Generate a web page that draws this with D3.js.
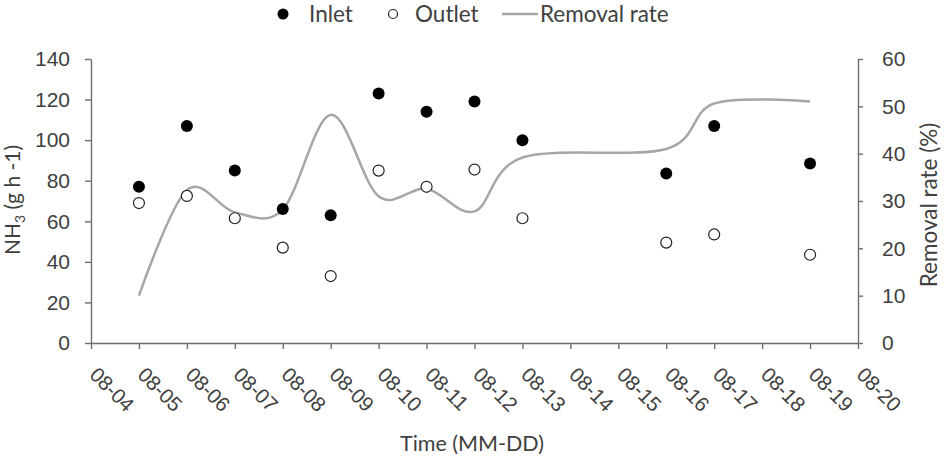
<!doctype html>
<html lang="en">
<head>
<meta charset="UTF-8" />
<title>NH3 inlet / outlet</title>
<style>
    body { margin: 0; background: #fff; font-family: 'Lato', sans-serif; }
    .tick text { fill: #404040; }
    .axis path, .axis line { stroke: #6e6e6e; stroke-width: 1.4px; }
</style>
<script src="https://d3js.org/d3.v7.min.js"></script>
</head>
<body>
<div id="chart"></div>
<script>
    // all dates on the axis
    var xTickLabels = ['08-04', '08-05', '08-06', '08-07', '08-08', '08-09', '08-10', '08-11',
        '08-12', '08-13', '08-14', '08-15', '08-16', '08-17', '08-18', '08-19', '08-20'];
    var leftTicks = [0, 20, 40, 60, 80, 100, 120, 140];
    var rightTicks = [0, 10, 20, 30, 40, 50, 60];

    // sampling days
    var dates = ['08-05', '08-06', '08-07', '08-08', '08-09', '08-10', '08-11', '08-12',
        '08-13', '08-16', '08-17', '08-19'];
    var inlet = [77, 107, 85, 66, 63, 123, 114, 119, 100, 83.5, 107, 88.5];
    var outlet = [69, 72.5, 61.5, 47, 33, 85, 77, 85.5, 61.5, 49.5, 53.5, 43.5];
    var removal = [10, 32.3, 27.6, 28.2, 48.2, 31, 32.6, 27.8, 39.2, 41, 50.6, 51];

    var width = 948, height = 466;
    var svg = d3.select('#chart').append('svg')
        .attr('width', width)
        .attr('height', height);

    var x = d3.scalePoint().domain(xTickLabels).range([91, 858]);
    var yLeft = d3.scaleLinear().domain([0, 140]).range([343, 59]);
    var yRight = d3.scaleLinear().domain([0, 60]).range([343, 59]);

    // bottom axis
    var xAxis = svg.append('g')
        .attr('class', 'axis')
        .attr('transform', 'translate(0,' + yLeft(0) + ')')
        .call(d3.axisBottom(x).tickSize(6).tickSizeOuter(0));
    xAxis.selectAll('.tick text')
        .attr('font-size', '20.5px')
        .attr('text-anchor', 'start')
        .attr('dy', 0)
        .attr('transform', 'translate(-3,33) rotate(45)')
        .attr('y', 0)
        .attr('x', 0);

    // left axis
    svg.append('g')
        .attr('class', 'axis')
        .attr('transform', 'translate(' + x('08-04') + ',0)')
        .call(d3.axisLeft(yLeft).tickValues(leftTicks).tickSize(6).tickSizeOuter(0).tickPadding(15))
        .selectAll('.tick text')
        .attr('font-size', '21px');

    // right axis
    svg.append('g')
        .attr('class', 'axis')
        .attr('transform', 'translate(' + x('08-20') + ',0)')
        .call(d3.axisRight(yRight).tickValues(rightTicks).tickSize(5).tickSizeOuter(0).tickPadding(19))
        .selectAll('.tick text')
        .attr('font-size', '21px');

    // axis titles
    svg.append('text')
        .attr('x', 472)
        .attr('y', 451)
        .attr('text-anchor', 'middle')
        .attr('font-size', '21.5px')
        .attr('fill', '#404040')
        .text('Time (MM-DD)');

    var yTitle = svg.append('text')
        .attr('transform', 'translate(20,200) rotate(-90)')
        .attr('text-anchor', 'middle')
        .attr('font-size', '21px')
        .attr('fill', '#404040');
    yTitle.append('tspan').text('NH');
    yTitle.append('tspan').attr('font-size', '14px').attr('dy', 5).text('3');
    yTitle.append('tspan').attr('dy', -5).text(' (g h -1)');

    svg.append('text')
        .attr('transform', 'translate(937,205) rotate(-90)')
        .attr('text-anchor', 'middle')
        .attr('font-size', '22.5px')
        .attr('fill', '#404040')
        .text('Removal rate (%)');

    // removal rate line (smoothed)
    var line = d3.line()
        .x(function (d, i) { return x(dates[i]); })
        .y(function (d) { return yRight(d); })
        .curve(d3.curveCardinal.tension(0));

    svg.append('path')
        .datum(removal)
        .attr('d', line)
        .attr('fill', 'none')
        .attr('stroke', '#a6a6a6')
        .attr('stroke-width', 2.5);

    // inlet points
    svg.selectAll('.inlet')
        .data(inlet)
        .enter()
        .append('circle')
        .attr('class', 'inlet')
        .attr('cx', function (d, i) { return x(dates[i]); })
        .attr('cy', function (d) { return yLeft(d); })
        .attr('r', 6)
        .attr('fill', '#000');

    // outlet points
    svg.selectAll('.outlet')
        .data(outlet)
        .enter()
        .append('circle')
        .attr('class', 'outlet')
        .attr('cx', function (d, i) { return x(dates[i]); })
        .attr('cy', function (d) { return yLeft(d); })
        .attr('r', 5.5)
        .attr('fill', '#fff')
        .attr('stroke', '#222')
        .attr('stroke-width', 1.2);

    // legend
    var legend = svg.append('g');
    legend.append('circle').attr('cx', 283).attr('cy', 14).attr('r', 5.5).attr('fill', '#000');
    legend.append('text').attr('x', 309).attr('y', 22).attr('font-size', '22.5px').attr('fill', '#404040').text('Inlet');
    legend.append('circle').attr('cx', 393).attr('cy', 14).attr('r', 4.5)
        .attr('fill', '#fff').attr('stroke', '#222').attr('stroke-width', 1.2);
    legend.append('text').attr('x', 415).attr('y', 22).attr('font-size', '22.5px').attr('fill', '#404040').text('Outlet');
    legend.append('line').attr('x1', 502).attr('x2', 538).attr('y1', 14).attr('y2', 14)
        .attr('stroke', '#a6a6a6').attr('stroke-width', 2.5);
    legend.append('text').attr('x', 540).attr('y', 22).attr('font-size', '22.5px').attr('fill', '#404040').text('Removal rate');
</script>
</body>
</html>
